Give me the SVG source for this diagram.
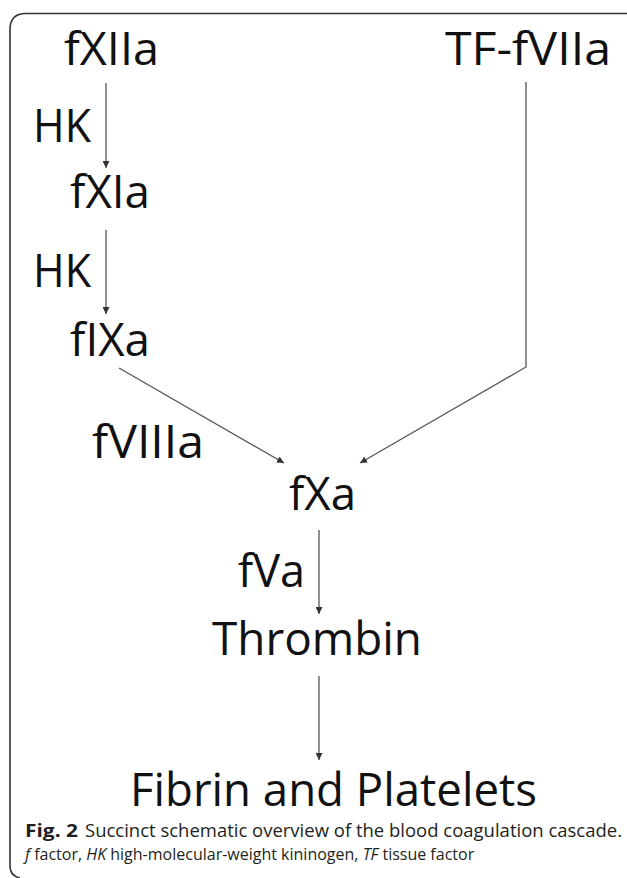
<svg xmlns="http://www.w3.org/2000/svg" width="627" height="878" viewBox="0 0 627 878">
<style>
.n{font-family:"Open Sans","Noto Sans","Liberation Sans",sans-serif;font-size:46px;fill:#111;}
.c{font-family:"Open Sans","Noto Sans","Liberation Sans",sans-serif;font-size:18px;fill:#231f20;}
.c2{font-family:"Open Sans","Noto Sans","Liberation Sans",sans-serif;font-size:16px;fill:#231f20;}
.e{fill:none;stroke:#555;stroke-width:1.3;}
</style>
<defs>
<marker id="ah" viewBox="0 0 10 10" refX="10" refY="5" markerWidth="7" markerHeight="7" markerUnits="userSpaceOnUse" orient="auto">
<path d="M0,0 L10,5 L0,10 z" fill="#333"/>
</marker>
</defs>
<rect width="627" height="878" fill="#fff"/>
<path d="M627,13.5 H26 Q10,13.5 10,29.5 V866 Q10,876 20,878" fill="none" stroke="#333" stroke-width="1.6"/>
<g id="fXIIa"><text class="n" x="64" y="65" textLength="95" lengthAdjust="spacingAndGlyphs">fXIIa</text></g>
<g id="TF-fVIIa"><text class="n" x="445" y="65" textLength="166" lengthAdjust="spacingAndGlyphs">TF-fVIIa</text></g>
<g id="HK1"><text class="n" x="33" y="142" textLength="58" lengthAdjust="spacingAndGlyphs">HK</text></g>
<g id="fXIa"><text class="n" x="70" y="208" textLength="80" lengthAdjust="spacingAndGlyphs">fXIa</text></g>
<g id="HK2"><text class="n" x="33" y="287" textLength="58" lengthAdjust="spacingAndGlyphs">HK</text></g>
<g id="fIXa"><text class="n" x="70" y="356" textLength="80" lengthAdjust="spacingAndGlyphs">fIXa</text></g>
<g id="fVIIIa"><text class="n" x="92" y="458" textLength="112" lengthAdjust="spacingAndGlyphs">fVIIIa</text></g>
<g id="fXa"><text class="n" x="289" y="510" textLength="67" lengthAdjust="spacingAndGlyphs">fXa</text></g>
<g id="fVa"><text class="n" x="238" y="587" textLength="67" lengthAdjust="spacingAndGlyphs">fVa</text></g>
<g id="Thrombin"><text class="n" x="212" y="655" textLength="210" lengthAdjust="spacingAndGlyphs">Thrombin</text></g>
<g id="Fibrin"><text class="n" x="130" y="806" textLength="407" lengthAdjust="spacingAndGlyphs">Fibrin and Platelets</text></g>
<g id="connectors">
<line class="e" x1="106" y1="83" x2="106" y2="168" marker-end="url(#ah)"/>
<line class="e" x1="106" y1="230" x2="106" y2="314" marker-end="url(#ah)"/>
<line class="e" x1="119" y1="368" x2="284" y2="463" marker-end="url(#ah)"/>
<polyline class="e" points="526,82 526,367 360,463" marker-end="url(#ah)"/>
<line class="e" x1="319" y1="530" x2="319" y2="614" marker-end="url(#ah)"/>
<line class="e" x1="319" y1="676" x2="319" y2="760" marker-end="url(#ah)"/>
</g>
<g id="caption">
<text class="c" x="25" y="837" font-weight="bold" textLength="53" lengthAdjust="spacingAndGlyphs">Fig. 2</text>
<text class="c" x="85" y="837" textLength="537" lengthAdjust="spacingAndGlyphs">Succinct schematic overview of the blood coagulation cascade.</text>
<text class="c2" x="25" y="860"><tspan font-style="italic">f</tspan> factor, <tspan font-style="italic">HK</tspan> high-molecular-weight kininogen, <tspan font-style="italic">TF</tspan> tissue factor</text>
</g>
</svg>
